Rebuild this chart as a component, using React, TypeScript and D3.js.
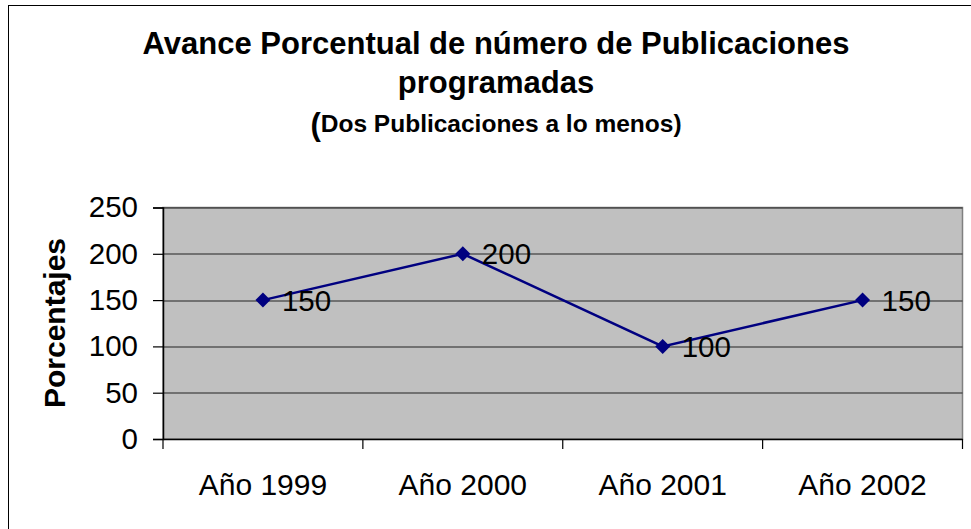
import React, { useEffect, useRef } from 'react';
import * as d3 from 'd3';

const categories = ['Año 1999', 'Año 2000', 'Año 2001', 'Año 2002'];
const values = [150, 200, 100, 150];
const yTicks = [0, 50, 100, 150, 200, 250];
const titleLines = ['Avance Porcentual de número de Publicaciones', 'programadas'];
const subtitle = 'Dos Publicaciones a lo menos)';

const App = () => {
  const svgRef = useRef<SVGSVGElement>(null);
  const width = 971;
  const height = 529;

  useEffect(() => {
    const margin = { top: 207.5, right: 8.5, bottom: 90, left: 163 };
    const innerWidth = width - margin.left - margin.right;
    const innerHeight = 439 - margin.top;
    const font = 'Arial, "Liberation Sans", sans-serif';

    d3.select(svgRef.current).selectAll('*').remove();

    const svg = d3.select(svgRef.current)
      .attr('width', width)
      .attr('height', height)
      .style('font-family', font);

    svg.append('rect')
      .attr('width', width)
      .attr('height', height)
      .attr('fill', 'white');

    // outer chart frame (runs past the right and bottom edges)
    svg.append('rect')
      .attr('x', 8.5)
      .attr('y', 5.5)
      .attr('width', 1000)
      .attr('height', 600)
      .attr('fill', 'none')
      .attr('stroke', '#000')
      .attr('stroke-width', 1);

    // titles
    const title = svg.append('text')
      .attr('text-anchor', 'middle')
      .attr('font-weight', 'bold')
      .attr('fill', '#000');
    title.append('tspan').attr('x', 496).attr('y', 54).attr('font-size', 31).text(titleLines[0]);
    title.append('tspan').attr('x', 496).attr('y', 93).attr('font-size', 31).text(titleLines[1]);

    const sub = svg.append('text')
      .attr('x', 496)
      .attr('y', 132)
      .attr('text-anchor', 'middle')
      .attr('font-weight', 'bold')
      .attr('fill', '#000');
    sub.append('tspan').attr('font-size', 31).attr('dy', 3).text('(');
    sub.append('tspan').attr('font-size', 24.5).attr('dy', -3).text(subtitle);

    const g = svg.append('g')
      .attr('transform', `translate(${margin.left},${margin.top})`);

    const xScale = d3.scaleBand()
      .domain(categories)
      .range([0, innerWidth])
      .padding(0);

    const yScale = d3.scaleLinear()
      .domain([0, 250])
      .range([innerHeight, 0]);

    // plot area
    g.append('rect')
      .attr('width', innerWidth)
      .attr('height', innerHeight)
      .attr('fill', '#c0c0c0')
      .attr('stroke', '#808080')
      .attr('stroke-width', 1.5);

    // grid lines
    g.append('g')
      .selectAll('line')
      .data(yTicks.filter(d => d > 0))
      .enter()
      .append('line')
      .attr('x1', 0)
      .attr('x2', innerWidth)
      .attr('y1', d => Math.round(yScale(d)) + 0.5)
      .attr('y2', d => Math.round(yScale(d)) + 0.5)
      .attr('stroke', '#222')
      .attr('stroke-width', 1.2);

    // y axis
    const yAxis = g.append('g')
      .call(d3.axisLeft(yScale).tickValues(yTicks).tickSize(10).tickPadding(15));
    yAxis.select('.domain').attr('stroke', '#000').attr('stroke-width', 1.5);
    yAxis.selectAll('.tick line').attr('stroke', '#000').attr('stroke-width', 1.2);
    yAxis.selectAll('.tick text')
      .attr('font-size', 29.5)
      .attr('font-family', font)
      .attr('fill', '#000');

    // x axis
    const xAxis = g.append('g')
      .attr('transform', `translate(0, ${innerHeight})`)
      .call(d3.axisBottom(xScale).tickSize(0).tickPadding(35));
    xAxis.select('.domain').attr('stroke', '#000').attr('stroke-width', 1.5);
    xAxis.selectAll('.tick text')
      .attr('font-size', 30)
      .attr('font-family', font)
      .attr('fill', '#000');

    // category boundary ticks
    const bounds = categories.map(c => xScale(c) as number).concat([innerWidth]);
    xAxis.selectAll('.bound')
      .data(bounds)
      .enter()
      .append('line')
      .attr('x1', d => d)
      .attr('x2', d => d)
      .attr('y1', 0)
      .attr('y2', 10)
      .attr('stroke', '#000')
      .attr('stroke-width', 1.2);

    // y axis title
    svg.append('text')
      .attr('transform', 'translate(65, 323) rotate(-90)')
      .attr('text-anchor', 'middle')
      .attr('font-size', 30)
      .attr('font-weight', 'bold')
      .attr('fill', '#000')
      .text('Porcentajes');

    const data = categories.map((c, i) => ({ c, v: values[i] }));
    const cx = (d: { c: string }) => (xScale(d.c) as number) + xScale.bandwidth() / 2;

    const line = d3.line<{ c: string; v: number }>()
      .x(d => cx(d))
      .y(d => yScale(d.v));

    g.append('path')
      .datum(data)
      .attr('fill', 'none')
      .attr('stroke', '#000080')
      .attr('stroke-width', 2.5)
      .attr('d', line);

    g.selectAll('.marker')
      .data(data)
      .enter()
      .append('path')
      .attr('transform', d => `translate(${cx(d)},${yScale(d.v)})`)
      .attr('d', 'M0,-7.5L7.5,0L0,7.5L-7.5,0Z')
      .attr('fill', '#000080');

    g.selectAll('.label')
      .data(data)
      .enter()
      .append('text')
      .attr('x', d => cx(d) + 19)
      .attr('y', d => yScale(d.v) + 10.5)
      .attr('font-size', 29.5)
      .attr('fill', '#000')
      .text(d => d.v);
  }, []);

  return (
    <svg ref={svgRef} style={{ position: 'absolute', left: 0, top: 0, display: 'block' }}></svg>
  );
};

export default App;
